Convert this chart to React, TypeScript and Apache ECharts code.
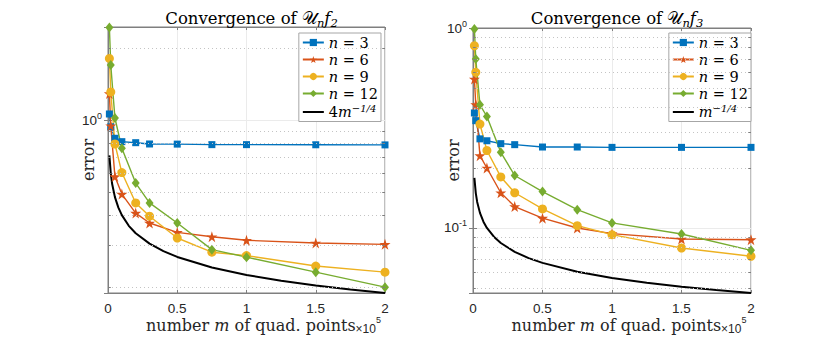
import React, { useEffect, useRef } from 'react';
import * as echarts from 'echarts';

// sample sizes m (number of quadrature points)
const mValues = [1000, 2000, 5000, 10000, 20000, 30000, 50000, 75000, 100000, 150000, 200000];

// errors for U_n f_2
const f2_n3 = [1.06, 0.937, 0.839, 0.812, 0.804, 0.794, 0.793, 0.789, 0.789, 0.788, 0.787];
const f2_n6 = [1.29, 0.947, 0.58, 0.49, 0.408, 0.371, 0.339, 0.325, 0.314, 0.306, 0.302];
const f2_n9 = [1.81, 1.31, 0.794, 0.603, 0.45, 0.396, 0.321, 0.28, 0.271, 0.245, 0.231];
const f2_n12 = [2.44, 1.7, 1.02, 0.762, 0.545, 0.45, 0.371, 0.287, 0.267, 0.231, 0.2];

// errors for U_n f_3
const f3_n3 = [0.376, 0.344, 0.279, 0.273, 0.264, 0.261, 0.254, 0.254, 0.253, 0.253, 0.253];
const f3_n6 = [0.556, 0.414, 0.23, 0.1995, 0.15, 0.128, 0.112, 0.1, 0.0937, 0.0881, 0.0874];
const f3_n9 = [0.815, 0.6, 0.331, 0.244, 0.18, 0.15, 0.1245, 0.1027, 0.0926, 0.0794, 0.0722];
const f3_n12 = [0.989, 0.7, 0.413, 0.361, 0.239, 0.183, 0.152, 0.1235, 0.106, 0.0933, 0.0773];

// reference curves
const refM = [1000, 2000, 3000, 5000, 7500, 10000, 15000, 20000, 30000, 40000, 50000, 75000, 100000, 125000, 150000, 175000, 200000];
const ref_f2 = [0.711, 0.598, 0.54, 0.476, 0.43, 0.4, 0.361, 0.336, 0.304, 0.283, 0.2675, 0.2417, 0.2249, 0.2127, 0.2033, 0.1956, 0.1892];
const ref_f3 = [0.178, 0.1495, 0.135, 0.119, 0.1075, 0.1, 0.0904, 0.0841, 0.076, 0.0707, 0.0669, 0.0604, 0.0562, 0.0532, 0.0508, 0.0489, 0.0473];

const seriesNames = ['n = 3', 'n = 6', 'n = 9', 'n = 12'];
const refNames = ['4m^{-1/4}', 'm^{-1/4}'];

// minor (dotted) log grid values
const minorGridF2 = [0.2, 0.3, 0.4, 0.5, 0.6, 0.7, 0.8, 0.9, 2];
const minorGridF3 = [0.05, 0.06, 0.07, 0.08, 0.09, 0.2, 0.3, 0.4, 0.5, 0.6, 0.7, 0.8, 0.9];

const X_MIN = 0;
const X_MAX = 200000;
const MINOR_TICK_LEN = 2000; // in data units of m (about 3 px)

const COLORS = ['#0072BD', '#D95319', '#EDB120', '#77AC30'];
const STAR = 'path://M50,0 L61.2,34.5 L97.6,34.5 L68.2,55.9 L79.4,90.5 L50,69.1 L20.6,90.5 L31.8,55.9 L2.4,34.5 L38.8,34.5 Z';
const SYMBOLS = ['rect', STAR, 'circle', 'diamond'];
const SIZES: any[] = [7, 11, 9, [8, 10]];

const SERIF = "'DejaVu Serif', 'Liberation Serif', serif";
const SANS = "'Liberation Sans', Arial, sans-serif";
const AXIS_COLOR = '#7f7f7f';

const panels = [
  {
    grid: { left: 108, top: 27, width: 277, height: 266 },
    yMin: 0.189, yMax: 2.45,
    data: [f2_n3, f2_n6, f2_n9, f2_n12],
    ref: ref_f2, refName: refNames[0], sub: '2',
    minor: minorGridF2, legendRight: 449,
  },
  {
    grid: { left: 473, top: 28, width: 278, height: 265 },
    yMin: 0.0473, yMax: 1.0,
    data: [f3_n3, f3_n6, f3_n9, f3_n12],
    ref: ref_f3, refName: refNames[1], sub: '3',
    minor: minorGridF3, legendRight: 79,
  },
];

const logLabel = (v: number) => {
  const e = Math.log10(v);
  const r = Math.round(e);
  if (Math.abs(e - r) < 1e-6) return '{b|10}{s|' + r + '}';
  return '';
};

const legendFmt = (name: string) => {
  if (name.startsWith('n = ')) return '{i|n}{r| = ' + name.slice(4) + '}';
  if (name === '4m^{-1/4}') return '{r|4}{i|m}{e|\u22121/4}';
  return '{i|m}{e|\u22121/4}';
};

function buildOption() {
  const grid: any[] = [];
  const xAxis: any[] = [];
  const yAxis: any[] = [];
  const series: any[] = [];
  const legend: any[] = [];
  const title: any[] = [];

  panels.forEach((p) => {
    grid.push({
      ...p.grid, show: true, borderColor: AXIS_COLOR, borderWidth: 1, backgroundColor: '#fff',
      containLabel: false, outerBoundsMode: 'none',
    });
    title.push({
      text: '{t|Convergence of }{u|\u{1D4B0}}{s|n}{i|f}{s|' + p.sub + '}',
      left: p.grid.left + p.grid.width / 2,
      top: 2,
      textAlign: 'center',
      textStyle: {
        fontWeight: 'normal', fontFamily: SERIF,
        rich: {
          t: { fontFamily: SERIF, fontWeight: 'normal', fontSize: 16.5, lineHeight: 22, color: '#000' },
          u: { fontFamily: SERIF, fontWeight: 'normal', fontSize: 16.5, lineHeight: 22, color: '#000' },
          i: { fontFamily: SERIF, fontWeight: 'normal', fontStyle: 'italic', fontSize: 16.5, lineHeight: 22, color: '#000' },
          s: { fontFamily: SERIF, fontWeight: 'normal', fontStyle: 'italic', fontSize: 11.5, lineHeight: 12, verticalAlign: 'bottom', color: '#000' },
        },
      },
    });
  });

  // bottom x axes
  panels.forEach((p, k) => {
    xAxis.push({
      type: 'value', gridIndex: k, min: X_MIN, max: X_MAX, interval: 50000,
      axisLine: { show: true, lineStyle: { color: AXIS_COLOR } },
      axisTick: { show: true, inside: true, length: 3, lineStyle: { color: AXIS_COLOR } },
      axisLabel: {
        formatter: (v: number) => String(v / 100000),
        fontFamily: SANS, fontSize: 13.5, color: '#262626', margin: 8,
      },
      splitLine: { show: true, lineStyle: { color: '#ebebeb', width: 1 } },
      name: '{t|number }{i|m}{t| of quad. points}{x|\u00d710}{e|5}',
      nameLocation: 'middle',
      nameGap: 22,
      nameMoveOverlap: false,
      nameTextStyle: {
        padding: [0, 0, 0, 34],
        rich: {
          t: { fontFamily: SERIF, fontSize: 16, lineHeight: 20, color: '#262626' },
          i: { fontFamily: SERIF, fontStyle: 'italic', fontSize: 16, lineHeight: 20, color: '#262626' },
          x: { fontFamily: SANS, fontSize: 12, lineHeight: 12, verticalAlign: 'bottom', color: '#262626' },
          e: { fontFamily: SANS, fontSize: 9, lineHeight: 9, verticalAlign: 'top', color: '#262626' },
        },
      },
    });
  });
  // top x axes (box ticks)
  panels.forEach((p, k) => {
    xAxis.push({
      type: 'value', gridIndex: k, min: X_MIN, max: X_MAX, interval: 50000, position: 'top',
      axisLine: { show: true, lineStyle: { color: AXIS_COLOR } },
      axisTick: { show: true, inside: true, length: 3, lineStyle: { color: AXIS_COLOR } },
      axisLabel: { show: false }, splitLine: { show: false },
    });
  });
  // left y axes
  panels.forEach((p, k) => {
    yAxis.push({
      type: 'log', logBase: 10, gridIndex: k, min: p.yMin, max: p.yMax,
      axisLine: { show: true, lineStyle: { color: AXIS_COLOR } },
      axisTick: { show: true, inside: true, length: 4, lineStyle: { color: AXIS_COLOR } },
      axisLabel: {
        formatter: logLabel, margin: 6,
        rich: {
          b: { fontFamily: SANS, fontSize: 13.5, lineHeight: 18, color: '#262626' },
          s: { fontFamily: SANS, fontSize: 9, lineHeight: 9, verticalAlign: 'top', color: '#262626' },
        },
      },
      splitLine: { show: true, lineStyle: { color: '#ebebeb', width: 1 } },
      name: 'error', nameLocation: 'middle', nameGap: 12, nameMoveOverlap: false,
      nameTextStyle: { fontFamily: SERIF, fontSize: 16, color: '#262626' },
    });
  });
  // right y axes (box ticks)
  panels.forEach((p, k) => {
    yAxis.push({
      type: 'log', logBase: 10, gridIndex: k, min: p.yMin, max: p.yMax, position: 'right',
      axisLine: { show: true, lineStyle: { color: AXIS_COLOR } },
      axisTick: { show: true, inside: true, length: 4, lineStyle: { color: AXIS_COLOR } },
      axisLabel: { show: false }, splitLine: { show: false },
    });
  });

  panels.forEach((p, k) => {
    // minor dotted grid lines
    series.push({
      type: 'line', xAxisIndex: k, yAxisIndex: k, data: [], silent: true, z: 1,
      markLine: {
        silent: true, symbol: 'none', label: { show: false },
        lineStyle: { type: [1, 3], color: '#c4c4c4', width: 1 },
        data: p.minor.map((v) => ({ yAxis: v })),
      },
    });
    // minor ticks on left and right edges
    series.push({
      type: 'line', xAxisIndex: k, yAxisIndex: k, data: [], silent: true, z: 2,
      markLine: {
        silent: true, symbol: 'none', label: { show: false },
        lineStyle: { type: 'solid', color: AXIS_COLOR, width: 1 },
        data: [
          ...p.minor.map((v) => [{ coord: [X_MIN, v] }, { coord: [X_MIN + MINOR_TICK_LEN, v] }]),
          ...p.minor.map((v) => [{ coord: [X_MAX - MINOR_TICK_LEN, v] }, { coord: [X_MAX, v] }]),
        ],
      },
    });
    p.data.forEach((vals, j) => {
      series.push({
        type: 'line', name: seriesNames[j], xAxisIndex: k, yAxisIndex: k,
        data: mValues.map((m, i) => [m, vals[i]]),
        symbol: SYMBOLS[j], symbolSize: SIZES[j], showSymbol: true, clip: false,
        lineStyle: { color: COLORS[j], width: 1.4 },
        itemStyle: { color: COLORS[j] },
        z: 3,
      });
    });
    series.push({
      type: 'line', name: p.refName, xAxisIndex: k, yAxisIndex: k,
      data: refM.map((m, i) => [m, p.ref[i]]),
      symbol: 'none', showSymbol: false, clip: false,
      lineStyle: { color: '#000', width: 2 }, itemStyle: { color: '#000' },
      z: 3,
    });
    legend.push({
      data: [...seriesNames, { name: p.refName, itemStyle: { opacity: 0 } }],
      orient: 'vertical', right: p.legendRight, top: 33,
      backgroundColor: '#fff', borderColor: '#a6a6a6', borderWidth: 1, borderRadius: 0,
      padding: [2, 3, 2, 3], itemGap: 2, itemWidth: 21, itemHeight: 9,
      selectedMode: false,
      formatter: legendFmt,
      textStyle: {
        fontFamily: SERIF,
        rich: {
          r: { fontFamily: SERIF, fontSize: 14.5, lineHeight: 18, color: '#000' },
          i: { fontFamily: SERIF, fontStyle: 'italic', fontSize: 14.5, lineHeight: 18, color: '#000' },
          e: { fontFamily: SERIF, fontStyle: 'italic', fontSize: 10, lineHeight: 10, verticalAlign: 'top', color: '#000' },
        },
      },
    });
  });

  return { animation: false, backgroundColor: '#fff', title, grid, xAxis, yAxis, series, legend };
}

export default function App() {
  const ref = useRef<HTMLDivElement>(null);
  useEffect(() => {
    const chart = echarts.init(ref.current!, null, { renderer: 'svg' });
    chart.setOption(buildOption() as any);
    return () => chart.dispose();
  }, []);
  return (
    <div
      ref={ref}
      style={{ position: 'fixed', left: 0, top: 0, width: 830, height: 338, background: '#fff' }}
    />
  );
}
